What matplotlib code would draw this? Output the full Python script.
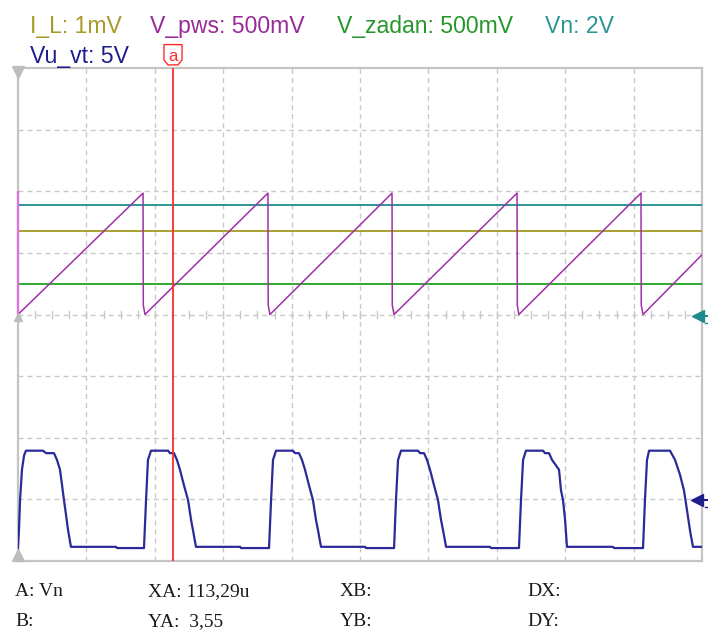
import matplotlib
matplotlib.use("Agg")
import matplotlib.pyplot as plt
from matplotlib.patches import Polygon

# time axis in microseconds (50 us/div, 10 div), vertical axis in divisions (8 div)
T_MAX = 500.0
DIVS_Y = 8

# channel legend: (text, colour)
channels = [
    ("I_L: 1mV", "#a89a28"),
    ("V_pws: 500mV", "#992a99"),
    ("V_zadan: 500mV", "#27962a"),
    ("Vn: 2V", "#2a9696"),
]
channel_2nd_row = ("Vu_vt: 5V", "#1f1f8c")

# flat traces (level in divisions)
vn_level = 5.78
il_level = 5.36
vzadan_level = 4.50

# V_pws sawtooth
pws_t = [0.0, 91.4, 91.6, 92.8, 182.7, 182.9, 184.2, 273.4, 273.6, 274.9,
         364.8, 365.0, 366.1, 455.4, 455.6, 456.9, 500.0]
pws_y = [4.00, 5.97, 4.15, 4.00, 5.97, 4.15, 4.00, 5.97, 4.15, 4.00,
         5.97, 4.15, 4.00, 5.97, 4.15, 4.00, 4.97]

# Vu_vt gate pulses
vu_t = [
    0.0, 0.7, 1.5, 2.9, 4.4, 5.8, 18.3, 20.5, 26.3, 28.5, 30.7, 32.2, 33.6, 35.1, 36.6, 38.7, 71.6, 72.4,
    92.1, 93.6, 95.0, 97.2, 109.7, 111.1, 114.0, 116.2, 118.4, 121.3, 124.3, 126.5, 127.9, 130.1, 162.3, 163.0,
    183.5, 185.0, 186.4, 188.6, 201.0, 202.5, 205.4, 207.6, 209.8, 212.7, 215.6, 217.8, 219.3, 221.5, 253.7, 254.4,
    274.9, 276.3, 277.8, 280.0, 292.4, 293.9, 296.8, 299.0, 301.2, 304.1, 307.0, 309.2, 310.7, 312.9, 345.0, 345.8,
    366.2, 367.7, 369.2, 371.3, 383.8, 385.2, 388.2, 390.4, 395.5, 396.9, 398.4, 399.9, 401.3, 414.4, 434.9, 435.7,
    456.9, 458.3, 459.8, 461.3, 476.6, 480.3, 483.9, 486.8, 489.0, 491.2, 493.4, 500.0,
]
vu_y = [
    0.21, 0.50, 0.99, 1.48, 1.71, 1.79, 1.79, 1.75, 1.75, 1.64, 1.48, 1.23, 0.99, 0.75, 0.50, 0.23, 0.23, 0.21,
    0.21, 0.99, 1.64, 1.79, 1.79, 1.75, 1.75, 1.64, 1.48, 1.23, 0.99, 0.67, 0.50, 0.23, 0.23, 0.21,
    0.21, 0.99, 1.64, 1.79, 1.79, 1.75, 1.75, 1.64, 1.48, 1.23, 0.99, 0.67, 0.50, 0.23, 0.23, 0.21,
    0.21, 0.99, 1.64, 1.79, 1.79, 1.75, 1.75, 1.64, 1.48, 1.23, 0.99, 0.67, 0.50, 0.23, 0.23, 0.21,
    0.21, 0.99, 1.64, 1.79, 1.79, 1.75, 1.75, 1.64, 1.48, 1.15, 0.99, 0.67, 0.23, 0.23, 0.23, 0.21,
    0.21, 0.99, 1.64, 1.79, 1.79, 1.64, 1.40, 1.15, 0.83, 0.50, 0.23, 0.23,
]

# cursor A
cursor_t = 113.29
readout = [
    [("A: Vn", 15), ("XA: 113,29u", 148), ("XB:", 340), ("DX:", 527)],
    [("B:", 15), ("YA:  3,55", 148), ("YB:", 340), ("DY:", 527)],
]

GRID = "#c8c8c8"
W, H = 708, 641


def draw_grid(ax):
    for x in range(50, 500, 50):
        ax.plot([x, x], [0, DIVS_Y], color=GRID, lw=1.0, ls=(0, (3.5, 3)), zorder=1)
    for y in range(1, DIVS_Y):
        ax.plot([0, T_MAX], [y, y], color=GRID, lw=1.0, ls=(0, (3.5, 3)), zorder=1)
    # quarter-division ticks along the centre line
    for i in range(41):
        x = i * 12.5
        ax.plot([x, x], [4 - 0.055, 4 + 0.055], color=GRID, lw=1.0, zorder=1)


def main():
    fig = plt.figure(figsize=(W / 100, H / 100), dpi=100)
    ax = fig.add_axes([18 / W, 80 / H, 684 / W, 493 / H])
    ax.set_xlim(0, T_MAX)
    ax.set_ylim(0, DIVS_Y)
    ax.set_xticks([])
    ax.set_yticks([])
    for s in ax.spines.values():
        s.set_color("#c4c4c4")
        s.set_linewidth(1.6)

    draw_grid(ax)

    ax.axhline(vn_level, color="#1e8c8c", lw=1.3, zorder=3)
    ax.axhline(il_level, color="#a39a22", lw=1.3, zorder=3)
    ax.axhline(vzadan_level, color="#22a022", lw=1.3, zorder=3)

    ax.plot([0, 0], [pws_y[0], 5.99], color="#e070e0", lw=1.6, zorder=4, clip_on=False)
    ax.plot(pws_t, pws_y, color="#a030a8", lw=1.1, zorder=4)
    ax.plot(vu_t, vu_y, color="#2a2a98", lw=1.6, zorder=4)

    # cursor line and its flag
    ax.axvline(cursor_t, color="#ff2a2a", lw=1.3, zorder=6)
    fx = 6.6
    flag = Polygon([(cursor_t - fx, 8.38), (cursor_t + fx, 8.38), (cursor_t + fx, 8.13),
                    (cursor_t + 3.6, 8.05), (cursor_t - 3.6, 8.05), (cursor_t - fx, 8.13)],
                   closed=True, facecolor="white", edgecolor="#ff2a2a", lw=1.0,
                   clip_on=False, zorder=7)
    ax.add_patch(flag)
    ax.text(cursor_t, 8.19, "a", color="#ff2a2a", fontsize=12, ha="center", va="center",
            family="Liberation Sans", clip_on=False, zorder=8)

    # trigger / level markers
    ax.plot([0], [7.94], marker="v", ms=9, color="#bdbdbd", clip_on=False, zorder=5)
    ax.plot([0], [0.10], marker="^", ms=9, color="#bdbdbd", clip_on=False, zorder=5)
    ax.plot([0], [3.96], marker="^", ms=6, color="#bdbdbd", clip_on=False, zorder=5)

    # channel offset arrows on the right
    ax.plot([497.0], [3.98], marker="<", ms=9, color="#1e8c8c", clip_on=False, zorder=5)
    ax.plot([497.0, 504.5], [3.98, 3.98], color="#1e8c8c", lw=1.5, clip_on=False, zorder=5)
    ax.plot([502.5, 504.5], [3.87, 3.87], color="#1e8c8c", lw=1.0, clip_on=False, zorder=5)
    ax.plot([496.5], [0.99], marker="<", ms=9, color="#1f1f8c", clip_on=False, zorder=5)
    ax.plot([496.5, 504.5], [0.99, 0.99], color="#1f1f8c", lw=1.5, clip_on=False, zorder=5)
    ax.plot([502.5, 504.5], [0.87, 0.87], color="#1f1f8c", lw=1.0, clip_on=False, zorder=5)

    # channel legend
    xs = [30, 150, 337, 545]
    for (label, color), x in zip(channels, xs):
        fig.text(x / W, 1 - 33 / H, label, color=color, fontsize=16.6,
                 family="Liberation Sans", va="baseline")
    fig.text(30 / W, 1 - 63 / H, channel_2nd_row[0], color=channel_2nd_row[1], fontsize=16.6,
             family="Liberation Sans", va="baseline")

    # cursor readout
    for row, y in zip(readout, [592, 622]):
        for text, x in row:
            fig.text(x / W, 1 - y / H, text, color="#1a1a1a", fontsize=14,
                     family="Liberation Serif", va="center")

    fig.savefig("out.png", dpi=100)


if __name__ == "__main__":
    main()
